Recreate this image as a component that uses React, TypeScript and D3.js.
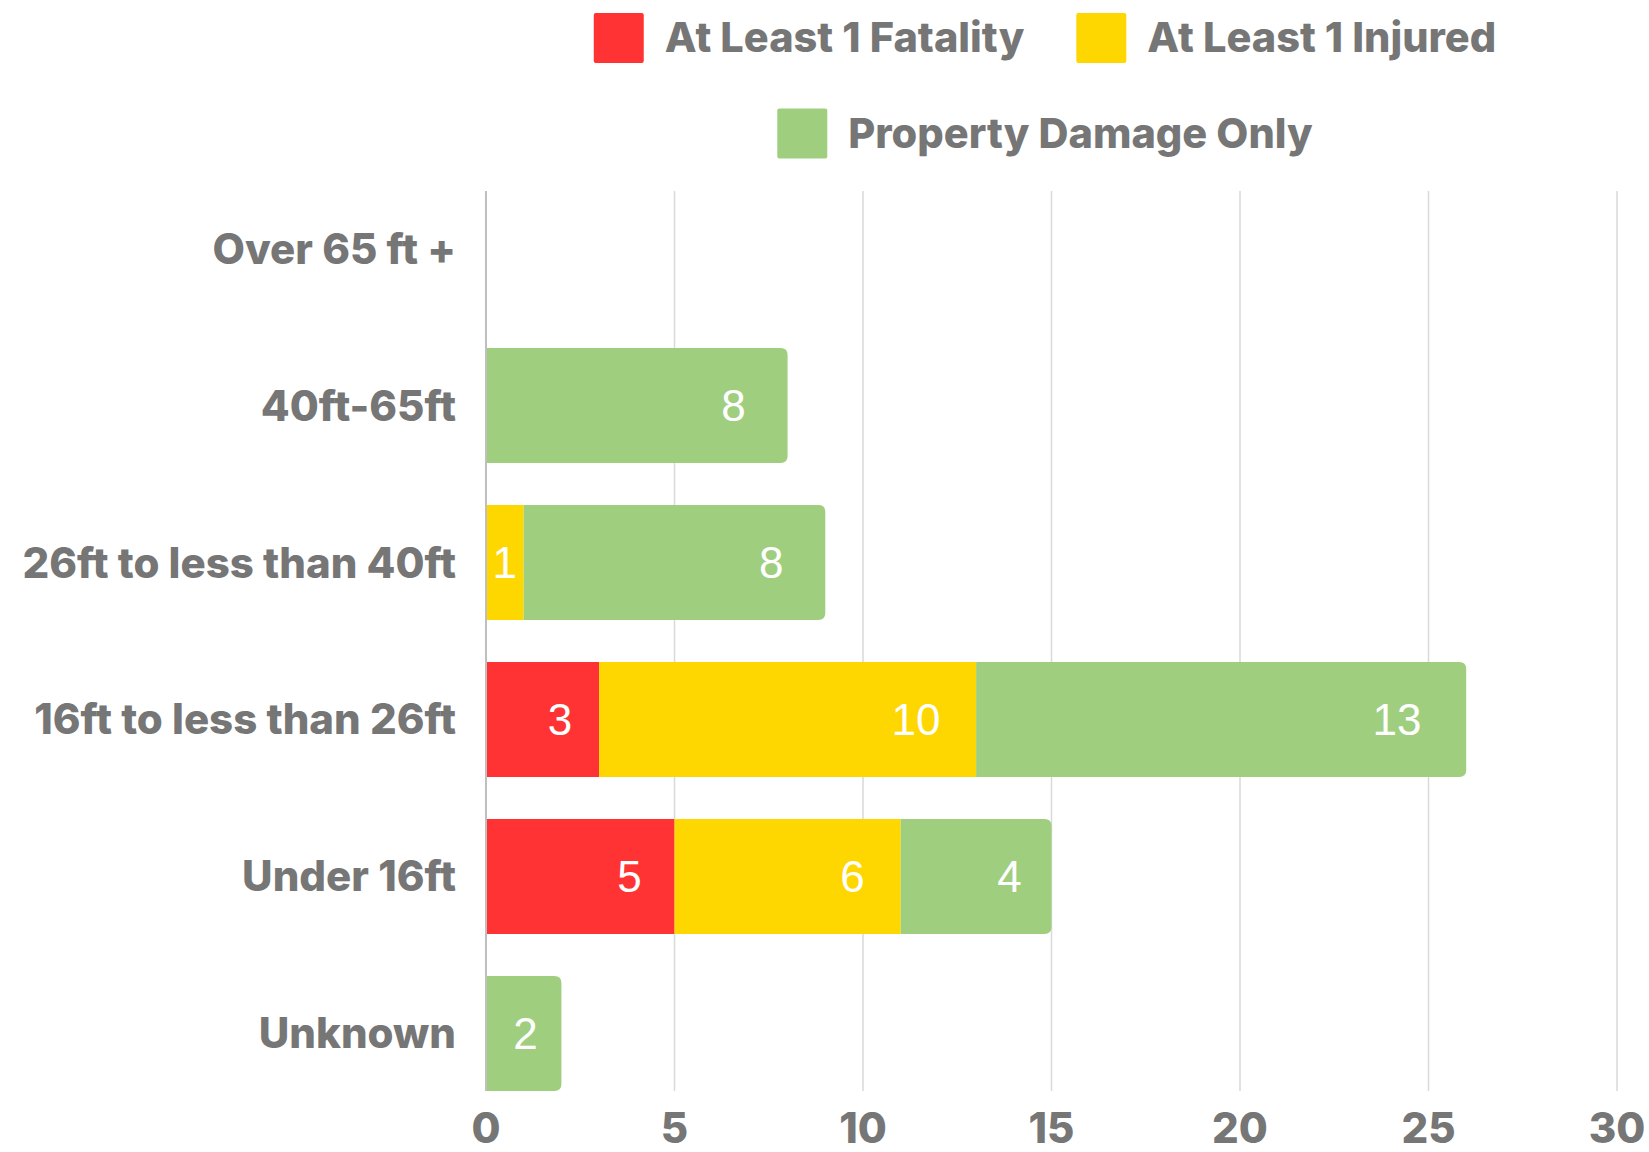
import * as d3 from "d3";
import { useRef, useEffect } from "react";

const categories = [
  "Over 65 ft +",
  "40ft-65ft",
  "26ft to less than 40ft",
  "16ft to less than 26ft",
  "Under 16ft",
  "Unknown",
];
const seriesNames = ["At Least 1 Fatality", "At Least 1 Injured", "Property Damage Only"];
const fatality = [0, 0, 0, 3, 5, 0];
const injured = [0, 0, 1, 10, 6, 0];
const propertyOnly = [0, 8, 8, 13, 4, 2];
const xTicks = [0, 5, 10, 15, 20, 25, 30];

const COLORS = ["#FF3333", "#FFD700", "#9FCF7E"];
const GREY = "#767676";
const FONT = "Inter, Roboto, sans-serif";

const W = 1649;
const H = 1152;

const App = () => {
  const ref = useRef<SVGSVGElement>(null);

  useEffect(() => {
    const svg = d3.select(ref.current);
    svg.selectAll("*").remove();

    const x = d3.scaleLinear().domain([0, 30]).range([486, 1617]);
    const y = d3.scaleBand<string>()
      .domain(categories)
      .range([191, 1091])
      .paddingInner(0.2675)
      .paddingOuter(0);

    const plotTop = 191;
    const plotBottom = 1091;

    // grid lines
    svg.append("g")
      .selectAll("line")
      .data(xTicks.filter(t => t > 0))
      .join("line")
      .attr("x1", d => x(d)).attr("x2", d => x(d))
      .attr("y1", plotTop).attr("y2", plotBottom)
      .attr("stroke", "#d9d9d9")
      .attr("stroke-width", 1.5);

    // stacked data
    const rows = categories.map((c, i) => ({
      cat: c,
      values: [fatality[i], injured[i], propertyOnly[i]],
    }));

    const r = 7;
    const segs: any[] = [];
    rows.forEach(row => {
      let acc = 0;
      const lastIdx = row.values.reduce((m, v, k) => (v > 0 ? k : m), -1);
      row.values.forEach((v, k) => {
        if (v > 0) {
          segs.push({ cat: row.cat, k, v, x0: acc, x1: acc + v, last: k === lastIdx });
        }
        acc += v;
      });
    });

    const bw = y.bandwidth();
    svg.append("g")
      .selectAll("path")
      .data(segs)
      .join("path")
      .attr("fill", d => COLORS[d.k])
      .attr("d", d => {
        const x0 = x(d.x0), x1 = x(d.x1);
        const y0 = y(d.cat)!, y1 = y0 + bw;
        if (!d.last) return `M${x0},${y0}H${x1}V${y1}H${x0}Z`;
        return `M${x0},${y0}H${x1 - r}Q${x1},${y0} ${x1},${y0 + r}V${y1 - r}Q${x1},${y1} ${x1 - r},${y1}H${x0}Z`;
      });

    // value labels
    svg.append("g")
      .selectAll("text")
      .data(segs)
      .join("text")
      .attr("x", d => {
        const w = x(d.x1) - x(d.x0);
        const off = Math.min(30 + 0.08 * w, w / 2);
        return x(d.x1) - off;
      })
      .attr("y", d => y(d.cat)! + bw / 2 + 15.5)
      .attr("text-anchor", "middle")
      .attr("fill", "#ffffff")
      .attr("font-family", "'Liberation Sans', Arial, sans-serif")
      .attr("font-size", 44)
      .text(d => d.v);

    // zero axis line
    svg.append("line")
      .attr("x1", x(0)).attr("x2", x(0))
      .attr("y1", plotTop).attr("y2", plotBottom)
      .attr("stroke", "#bfbfbf")
      .attr("stroke-width", 2);

    // category labels
    svg.append("g")
      .selectAll("text")
      .data(categories)
      .join("text")
      .attr("x", x(0) - 30)
      .attr("y", d => y(d)! + bw / 2 + 15)
      .attr("text-anchor", "end")
      .attr("fill", GREY)
      .attr("font-family", FONT)
      .attr("font-weight", 800)
      .attr("font-size", 42)
      .text(d => d);

    // x tick labels
    svg.append("g")
      .selectAll("text")
      .data(xTicks)
      .join("text")
      .attr("x", d => x(d))
      .attr("y", 1143)
      .attr("text-anchor", "middle")
      .attr("fill", GREY)
      .attr("font-family", FONT)
      .attr("font-weight", 800)
      .attr("font-size", 42)
      .text(d => d);

    // legend
    const legendRows = [[0, 1], [2]];
    const rowY = [38, 133.5];
    const sw = 50, gapText = 21, gapItem = 52, center = 1045;
    legendRows.forEach((items, ri) => {
      const g = svg.append("g");
      let cx = 0;
      items.forEach(k => {
        const item = g.append("g").attr("transform", `translate(${cx},0)`);
        item.append("rect")
          .attr("x", 0).attr("y", rowY[ri] - sw / 2)
          .attr("width", sw).attr("height", sw)
          .attr("rx", 2)
          .attr("fill", COLORS[k]);
        const t = item.append("text")
          .attr("x", sw + gapText)
          .attr("y", rowY[ri] + 14)
          .attr("fill", GREY)
          .attr("font-family", FONT)
          .attr("font-weight", 800)
          .attr("font-size", 41.5)
          .text(seriesNames[k]);
        const tw = (t.node() as SVGTextElement).getComputedTextLength();
        cx += sw + gapText + tw + gapItem;
      });
      const total = cx - gapItem;
      g.attr("transform", `translate(${center - total / 2},0)`);
    });
  }, []);

  return (
    <svg
      ref={ref}
      width={W}
      height={H}
      style={{ position: "absolute", left: 0, top: 0, display: "block", background: "#fff" }}
    />
  );
};

export default App;
